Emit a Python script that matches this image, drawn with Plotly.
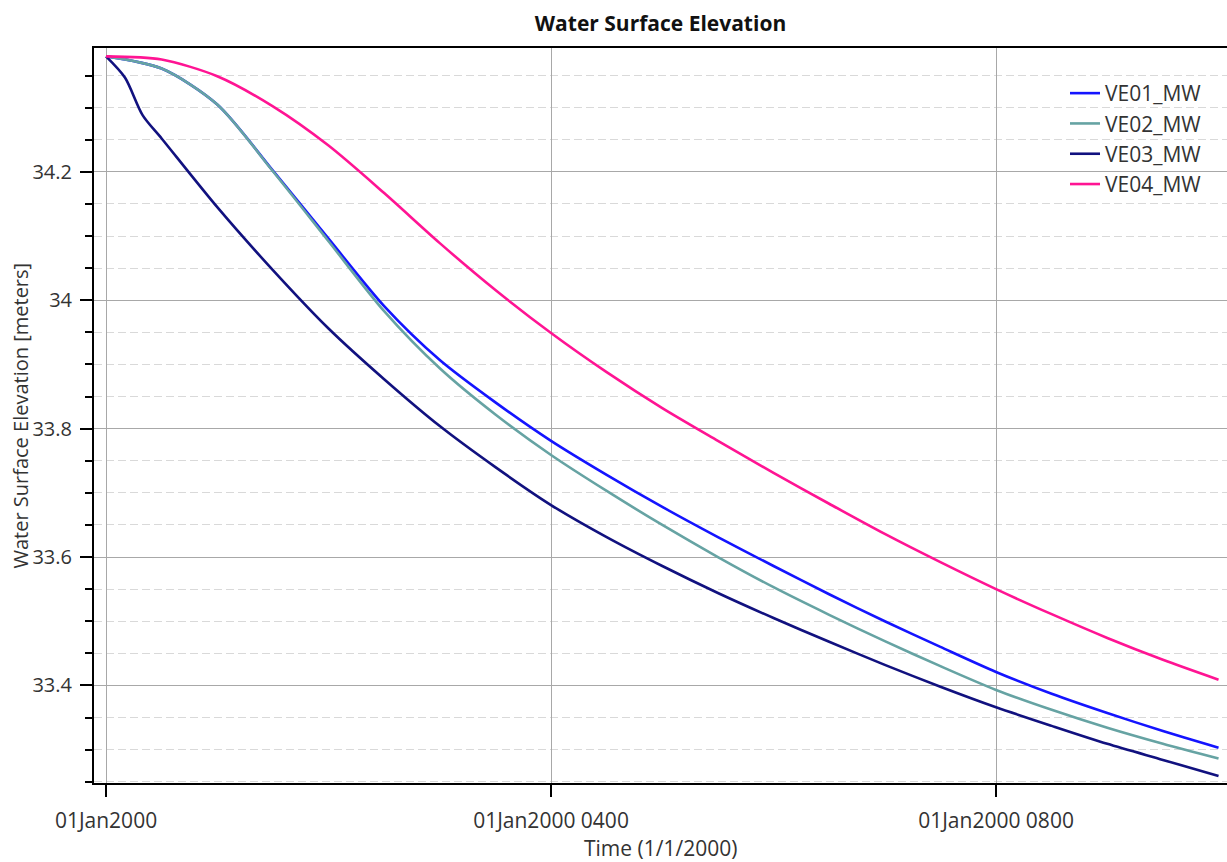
import plotly.graph_objects as go
import pandas as pd

base = pd.Timestamp("2000-01-01 00:00")

# Times (hours after 01Jan2000 0000) and water surface elevations (m)
half_hours = [0, 0.5, 1, 1.5, 2, 2.5, 3, 3.5, 4, 4.5, 5, 5.5, 6, 6.5, 7, 7.5, 8,
              8.5, 9, 9.5, 10]

ve01_vals = [34.380, 34.361, 34.305, 34.202, 34.096, 33.991, 33.907, 33.841, 33.781,
             33.728, 33.678, 33.631, 33.586, 33.542, 33.500, 33.460, 33.421, 33.387,
             33.357, 33.329, 33.303]

ve02_vals = [34.380, 34.361, 34.305, 34.201, 34.092, 33.983, 33.894, 33.822, 33.759,
             33.703, 33.650, 33.600, 33.553, 33.510, 33.469, 33.430, 33.393, 33.362,
             33.334, 33.309, 33.286]

ve03_hours = [0, 0.17, 0.33, 0.5, 1, 1.5, 2, 2.5, 3, 3.5, 4, 4.5, 5, 5.5, 6, 6.5, 7,
              7.5, 8, 8.5, 9, 9.5, 10]
ve03_vals = [34.380, 34.347, 34.288, 34.252, 34.145, 34.047, 33.956, 33.877, 33.804,
             33.740, 33.681, 33.631, 33.586, 33.544, 33.505, 33.468, 33.432, 33.398,
             33.366, 33.337, 33.309, 33.284, 33.259]

ve04_vals = [34.380, 34.375, 34.349, 34.302, 34.241, 34.167, 34.089, 34.016, 33.949,
             33.888, 33.832, 33.781, 33.731, 33.683, 33.636, 33.592, 33.550, 33.511,
             33.474, 33.440, 33.409]

series_names = ["VE01_MW", "VE02_MW", "VE03_MW", "VE04_MW"]
series_colors = ["#1414ff", "#66a3a3", "#11117f", "#ff1493"]

x_tick_hours = [0, 4, 8]
x_tick_labels = ["01Jan2000", "01Jan2000 0400", "01Jan2000 0800"]
y_tick_vals = [33.4, 33.6, 33.8, 34.0, 34.2]
y_tick_labels = ["33.4", "33.6", "33.8", "34", "34.2"]
x_title = "Time (1/1/2000)"
y_title = "Water Surface Elevation [meters]"
chart_title = "Water Surface Elevation"


def to_time(hours):
    return [base + pd.Timedelta(hours=h) for h in hours]


fig = go.Figure()
all_series = [(half_hours, ve01_vals), (half_hours, ve02_vals),
              (ve03_hours, ve03_vals), (half_hours, ve04_vals)]
for (hrs, vals), name, color in zip(all_series, series_names, series_colors):
    fig.add_trace(go.Scatter(
        x=to_time(hrs), y=vals, mode="lines", name=name, legendgroup=name,
        line=dict(color=color, width=2.6, shape="spline", smoothing=0.8),
    ))

font_family = "Open Sans, Noto Sans, DejaVu Sans, sans-serif"
text_color = "#333333"

fig.update_layout(
    width=1227, height=862,
    margin=dict(l=94, r=0, t=48, b=79),
    paper_bgcolor="white", plot_bgcolor="white",
    font=dict(family=font_family, size=21, color=text_color),
    title=dict(text="<b>" + chart_title + "</b>", x=0.5, xref="paper",
               y=0.972, yref="container", xanchor="center", yanchor="middle",
               font=dict(size=21, color="#111111")),
    legend=dict(x=0.857, y=0.966, xanchor="left", yanchor="top",
                bgcolor="rgba(0,0,0,0)", font=dict(size=21, color=text_color),
                tracegroupgap=0, itemwidth=30),
    showlegend=True,
    annotations=[
        dict(text=x_title, x=0.5, y=-0.0884, xref="paper", yref="paper",
             xanchor="center", yanchor="middle", showarrow=False,
             font=dict(size=21, color=text_color)),
        dict(text=y_title, x=-0.0653, y=0.5, xref="paper", yref="paper",
             xanchor="center", yanchor="middle", showarrow=False, textangle=-90,
             font=dict(size=20, color=text_color)),
    ],
)

fig.update_xaxes(
    range=[base - pd.Timedelta(hours=0.108), base + pd.Timedelta(hours=10.076)],
    tickvals=to_time(x_tick_hours), ticktext=x_tick_labels,
    ticks="outside", ticklen=12, tickcolor="black", tickwidth=1.5,
    ticklabelstandoff=6,
    showgrid=True, gridcolor="#a8a8a8", gridwidth=1,
    showline=True, linecolor="black", linewidth=2, mirror=True,
    zeroline=False, automargin=False,
    tickfont=dict(size=21, color=text_color),
)

fig.update_yaxes(
    range=[33.248, 34.393],
    tickvals=y_tick_vals, ticktext=y_tick_labels,
    ticks="outside", ticklen=12, tickcolor="black", tickwidth=1.5,
    ticklabelstandoff=4,
    showgrid=True, gridcolor="#a8a8a8", gridwidth=1,
    showline=True, linecolor="black", linewidth=2,
    zeroline=False, automargin=False,
    minor=dict(dtick=0.05, tick0=33.4, ticks="outside", ticklen=7, tickcolor="black",
               tickwidth=1.5, showgrid=True, gridcolor="#d9d9d9", griddash="8px,4px",
               gridwidth=1),
    tickfont=dict(size=20, color=text_color),
)

fig.write_html("out.html",
               config={"displayModeBar": False},
               post_script="document.body.style.margin='0';"
                           "document.documentElement.style.overflow='hidden';")
